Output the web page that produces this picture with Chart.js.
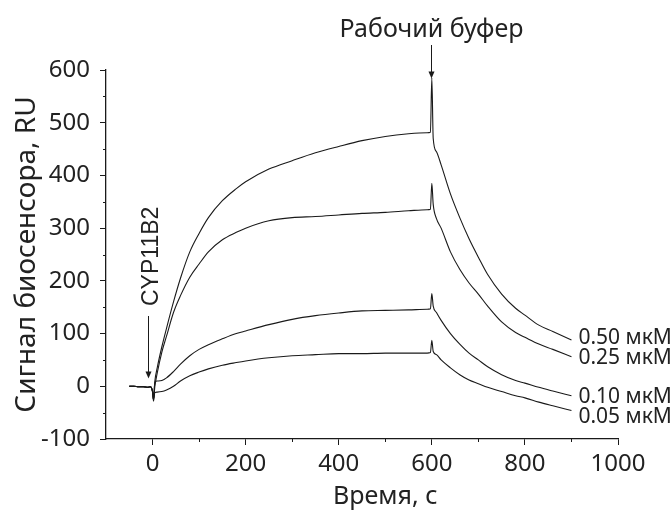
<!DOCTYPE html>
<html>
<head>
<meta charset="utf-8">
<script src="https://cdn.jsdelivr.net/npm/chart.js@4.4.1/dist/chart.umd.min.js"></script>
<style>
  html, body { margin: 0; padding: 0; background: #fff; }
  #wrap { width: 672px; height: 514px; }
</style>
</head>
<body>
<div id="wrap"><canvas id="sensorgram" width="672" height="514"></canvas></div>
<script>
// время, с
const times = [-50, -40, -30, -20, -10, -5, 0, 2, 5, 10, 20, 30, 45, 60, 80, 100, 120, 150, 180, 200,
  250, 300, 350, 400, 450, 500, 550, 590, 597, 600, 603, 610, 620, 640, 660, 680, 700, 720, 750,
  780, 800, 830, 860, 900];

// сигнал, RU
const c050 = [0, 0, -1, -1, -2, -1, -10, -25, 10, 35, 75, 110, 160, 205, 255, 290, 320, 352, 375, 388,
  412, 428, 443, 455, 466, 474, 479, 481, 482, 585, 470, 445, 420, 365, 320, 280, 245, 212, 175,
  148, 135, 116, 104, 88];
const c025 = [0, 0, -1, -1, -2, -1, -10, -25, 0, 25, 65, 95, 140, 172, 207, 232, 255, 278, 292, 300,
  314, 320, 322, 325, 328, 330, 333, 335, 336, 385, 345, 318, 300, 255, 222, 196, 175, 152, 122,
  102, 93, 80, 70, 56];
const c010 = [0, 0, -1, -1, -2, -1, -10, -25, 8, 10, 11, 16, 28, 42, 58, 70, 79, 90, 100, 105,
  117, 127, 134, 139, 143, 144, 145, 146, 147, 176, 152, 140, 125, 100, 80, 63, 50, 37, 22,
  11, 6, -2, -9, -18];
const c005 = [0, 0, -1, -1, -2, -1, -10, -28, -12, -11, -10, -7, 0, 10, 20, 27, 33, 40, 45, 48,
  54, 58, 60, 62, 62, 63, 63, 63, 64, 87, 66, 60, 50, 35, 22, 12, 5, -2, -10,
  -18, -22, -30, -37, -46];

const concLabels = ["0.50 мкМ", "0.25 мкМ", "0.10 мкМ", "0.05 мкМ"];
const xTicks = [0, 200, 400, 600, 800, 1000];
const yTicks = [-100, 0, 100, 200, 300, 400, 500, 600];

const INK = "#1a1a1a";
const TEXT = "#222";
const FONT = "'Noto Sans', sans-serif";

function pts(vals) {
  return times.map((t, i) => ({ x: t, y: vals[i] }));
}

// подписи, стрелки и малые деления
const annotations = {
  id: "annotations",
  afterDraw(chart) {
    const { ctx, scales: { x, y } } = chart;
    ctx.save();
    ctx.strokeStyle = INK;
    ctx.fillStyle = INK;
    ctx.lineWidth = 1;

    // малые деления
    ctx.beginPath();
    for (let v = -50; v < 600; v += 100) {
      const py = Math.round(y.getPixelForValue(v)) + 0.5;
      ctx.moveTo(x.left, py);
      ctx.lineTo(x.left - 3, py);
    }
    for (let v = 100; v < 1000; v += 200) {
      const px = Math.round(x.getPixelForValue(v)) + 0.5;
      ctx.moveTo(px, y.bottom);
      ctx.lineTo(px, y.bottom + 3);
    }
    ctx.stroke();

    function arrow(px, y0, y1) {
      ctx.beginPath();
      ctx.moveTo(px, y0);
      ctx.lineTo(px, y1 - 6);
      ctx.stroke();
      ctx.beginPath();
      ctx.moveTo(px - 3, y1 - 7);
      ctx.lineTo(px + 3, y1 - 7);
      ctx.lineTo(px, y1);
      ctx.closePath();
      ctx.fill();
    }

    // Рабочий буфер
    const bx = Math.round(x.getPixelForValue(598)) + 0.5;
    arrow(bx, 45, y.getPixelForValue(584));
    ctx.fillStyle = TEXT;
    ctx.font = "25px " + FONT;
    ctx.textAlign = "center";
    ctx.textBaseline = "alphabetic";
    ctx.fillText("Рабочий буфер", bx, 37);

    // CYP11B2
    const cx = Math.round(x.getPixelForValue(-10)) + 0.5;
    ctx.fillStyle = INK;
    arrow(cx, 316, y.getPixelForValue(15));
    ctx.save();
    ctx.fillStyle = TEXT;
    ctx.translate(cx + 9, 306);
    ctx.rotate(-Math.PI / 2);
    ctx.font = "23px 'Liberation Sans', Arial, sans-serif";
    ctx.textAlign = "left";
    ctx.textBaseline = "alphabetic";
    ctx.fillText("CYP11B2", 0, 0);
    ctx.restore();

    // концентрации
    ctx.fillStyle = TEXT;
    ctx.font = "21px " + FONT;
    ctx.textAlign = "left";
    ctx.textBaseline = "middle";
    const lx = x.getPixelForValue(915);
    [91, 53, -21, -59].forEach((v, i) => {
      ctx.fillText(concLabels[i], lx, y.getPixelForValue(v));
    });

    // подписи осей
    ctx.font = "25px " + FONT;
    ctx.textAlign = "center";
    ctx.textBaseline = "middle";
    ctx.fillText("Время, с", x.getPixelForValue(500), 497);
    ctx.save();
    ctx.font = "28px " + FONT;
    ctx.translate(27, (y.top + y.bottom) / 2);
    ctx.rotate(-Math.PI / 2);
    ctx.fillText("Сигнал биосенсора, RU", 0, 0);
    ctx.restore();

    ctx.restore();
  }
};

const line = (vals) => ({
  data: pts(vals),
  borderColor: INK,
  borderWidth: 1.1,
  pointRadius: 0,
  cubicInterpolationMode: "monotone",
  fill: false
});

const tickFont = { family: "'Noto Sans'", size: 24 };

new Chart(document.getElementById("sensorgram"), {
  type: "line",
  data: {
    datasets: [line(c050), line(c025), line(c010), line(c005)]
  },
  options: {
    responsive: false,
    animation: false,
    layout: { padding: { left: 0, top: 70, right: 54, bottom: 0 } },
    plugins: { legend: { display: false }, tooltip: { enabled: false } },
    scales: {
      x: {
        type: "linear",
        min: -100,
        max: 1000,
        afterBuildTicks: (s) => { s.ticks = xTicks.map((v) => ({ value: v })); },
        afterFit: (s) => { s.height = 75; },
        border: { color: INK, width: 1.3 },
        grid: { drawOnChartArea: false, tickLength: 6, tickColor: INK },
        ticks: { color: TEXT, padding: 5, font: tickFont, callback: (v) => String(v) }
      },
      y: {
        min: -100,
        max: 600,
        afterBuildTicks: (s) => { s.ticks = yTicks.map((v) => ({ value: v })); },
        afterFit: (s) => { s.width = 106; },
        border: { color: INK, width: 1.3 },
        grid: { drawOnChartArea: false, tickLength: 6, tickColor: INK },
        ticks: { color: TEXT, padding: 10, font: tickFont, callback: (v) => String(v) }
      }
    }
  },
  plugins: [annotations]
});
</script>
</body>
</html>
